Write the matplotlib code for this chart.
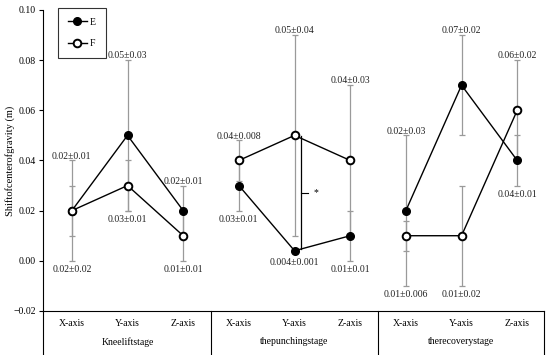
#!/usr/bin/env python3
"""Shift of centre of gravity per axis and stage, groups E and F."""

import matplotlib
matplotlib.use("Agg")
import matplotlib.pyplot as plt
from matplotlib.lines import Line2D
from matplotlib.transforms import blended_transform_factory

plt.rcParams["font.family"] = ["Liberation Serif", "DejaVu Serif"]

STAGES = ["Kneeliftstage", "thepunchingstage", "therecoverystage"]
AXES = ["X-axis", "Y-axis", "Z-axis"]

E_MEAN = [0.02, 0.05, 0.02, 0.03, 0.004, 0.01, 0.02, 0.07, 0.04]
E_ERR = [0.02, 0.03, 0.01, 0.01, 0.001, 0.01, 0.03, 0.02, 0.01]
F_MEAN = [0.02, 0.03, 0.01, 0.04, 0.05, 0.04, 0.01, 0.01, 0.06]
F_ERR = [0.01, 0.01, 0.01, 0.008, 0.04, 0.03, 0.006, 0.02, 0.02]

UPPER_LABELS = ["0.02±0.01", "0.05±0.03", "0.02±0.01",
                "0.04±0.008", "0.05±0.04", "0.04±0.03",
                "0.02±0.03", "0.07±0.02", "0.06±0.02"]
LOWER_LABELS = ["0.02±0.02", "0.03±0.01", "0.01±0.01",
                "0.03±0.01", "0.004±0.001", "0.01±0.01",
                "0.01±0.006", "0.01±0.02", "0.04±0.01"]

Y_TICKS = [-0.02, 0.00, 0.02, 0.04, 0.06, 0.08, 0.10]

ERR_COLOR = "#9a9a9a"
FS = 7


def main():
    fig = plt.figure(figsize=(5.5, 3.55), dpi=100)
    ax = fig.add_axes([0.078, 0.124, 0.911, 0.848])

    x = list(range(len(E_MEAN)))

    ax.errorbar(x, E_MEAN, yerr=E_ERR, fmt="none", ecolor=ERR_COLOR,
                elinewidth=0.9, capsize=2, capthick=0.9, zorder=1)
    ax.errorbar(x, F_MEAN, yerr=F_ERR, fmt="none", ecolor=ERR_COLOR,
                elinewidth=0.9, capsize=2, capthick=0.9, zorder=1)

    for g in range(len(STAGES)):
        sl = slice(g * 3, g * 3 + 3)
        ax.plot(x[sl], E_MEAN[sl], color="black", lw=1.0, marker="o",
                ms=5.5, mfc="black", mec="black", zorder=3)
        ax.plot(x[sl], F_MEAN[sl], color="black", lw=1.0, marker="o",
                ms=5.5, mfc="white", mec="black", mew=1.4, zorder=4)

    # value labels above the highest cap and below the lowest point
    for i in x:
        top = max(E_MEAN[i] + E_ERR[i], F_MEAN[i] + F_ERR[i])
        bottom = min(E_MEAN[i] - E_ERR[i], F_MEAN[i] - F_ERR[i], E_MEAN[i], F_MEAN[i])
        ax.text(i, top + 0.0017, UPPER_LABELS[i], ha="center", va="center",
                fontsize=FS, color="#222222", zorder=5)
        ax.text(i, bottom - 0.0035, LOWER_LABELS[i], ha="center", va="center",
                fontsize=FS, color="#222222", zorder=5)

    # significance bracket, punching stage Y-axis
    bx = 4.12
    ax.plot([bx, bx], [E_MEAN[4] + 0.0008, F_MEAN[4] - 0.0004], color="black", lw=0.9, zorder=2)
    ax.plot([bx, bx + 0.13], [0.027, 0.027], color="black", lw=0.8, zorder=2)
    ax.text(bx + 0.27, 0.027, "*", ha="center", va="center", fontsize=FS)

    ax.set_xlim(-0.52, 8.48)
    ax.set_ylim(-0.02, 0.10)
    ax.set_yticks(Y_TICKS)
    ax.set_yticklabels([f"{v:.2f}".replace("-", "\u2212") for v in Y_TICKS], fontsize=FS)
    ax.tick_params(axis="y", direction="out", length=3, width=0.8, pad=2)
    ax.set_xticks(x)
    ax.set_xticklabels(AXES * 3, fontsize=FS)
    ax.tick_params(axis="x", length=0, pad=6)
    ax.set_ylabel("Shiftofcenterofgravity (m)", fontsize=7.5)
    ax.yaxis.set_label_coords(-0.056, 0.5)

    for side in ["top", "right"]:
        ax.spines[side].set_visible(False)
    ax.spines["left"].set_linewidth(0.8)
    ax.spines["bottom"].set_linewidth(0.8)

    # category table below the axis
    trans = blended_transform_factory(ax.transData, ax.transAxes)
    low = -0.146
    for bx_sep in [-0.52, 2.5, 5.5, 8.48]:
        ax.plot([bx_sep, bx_sep], [low, 0], transform=trans, color="black",
                lw=0.8, clip_on=False)
    for g, stage in enumerate(STAGES):
        ax.text(g * 3 + 1, -0.103, stage, transform=trans, ha="center",
                va="center", fontsize=FS)

    handles = [
        Line2D([], [], color="black", lw=1.0, marker="o", ms=5.5,
               mfc="black", mec="black"),
        Line2D([], [], color="black", lw=1.0, marker="o", ms=5.5,
               mfc="white", mec="black", mew=1.4),
    ]
    leg = ax.legend(handles, ["E", "F"], loc="upper left",
                    bbox_to_anchor=(0.02, 1.022), fontsize=FS, frameon=True,
                    fancybox=False, edgecolor="black", borderpad=1.0,
                    labelspacing=1.25, handlelength=2.0, handletextpad=0.3)
    leg.get_frame().set_linewidth(0.8)

    fig.savefig("out.png", dpi=100)
    plt.close(fig)


if __name__ == "__main__":
    main()
